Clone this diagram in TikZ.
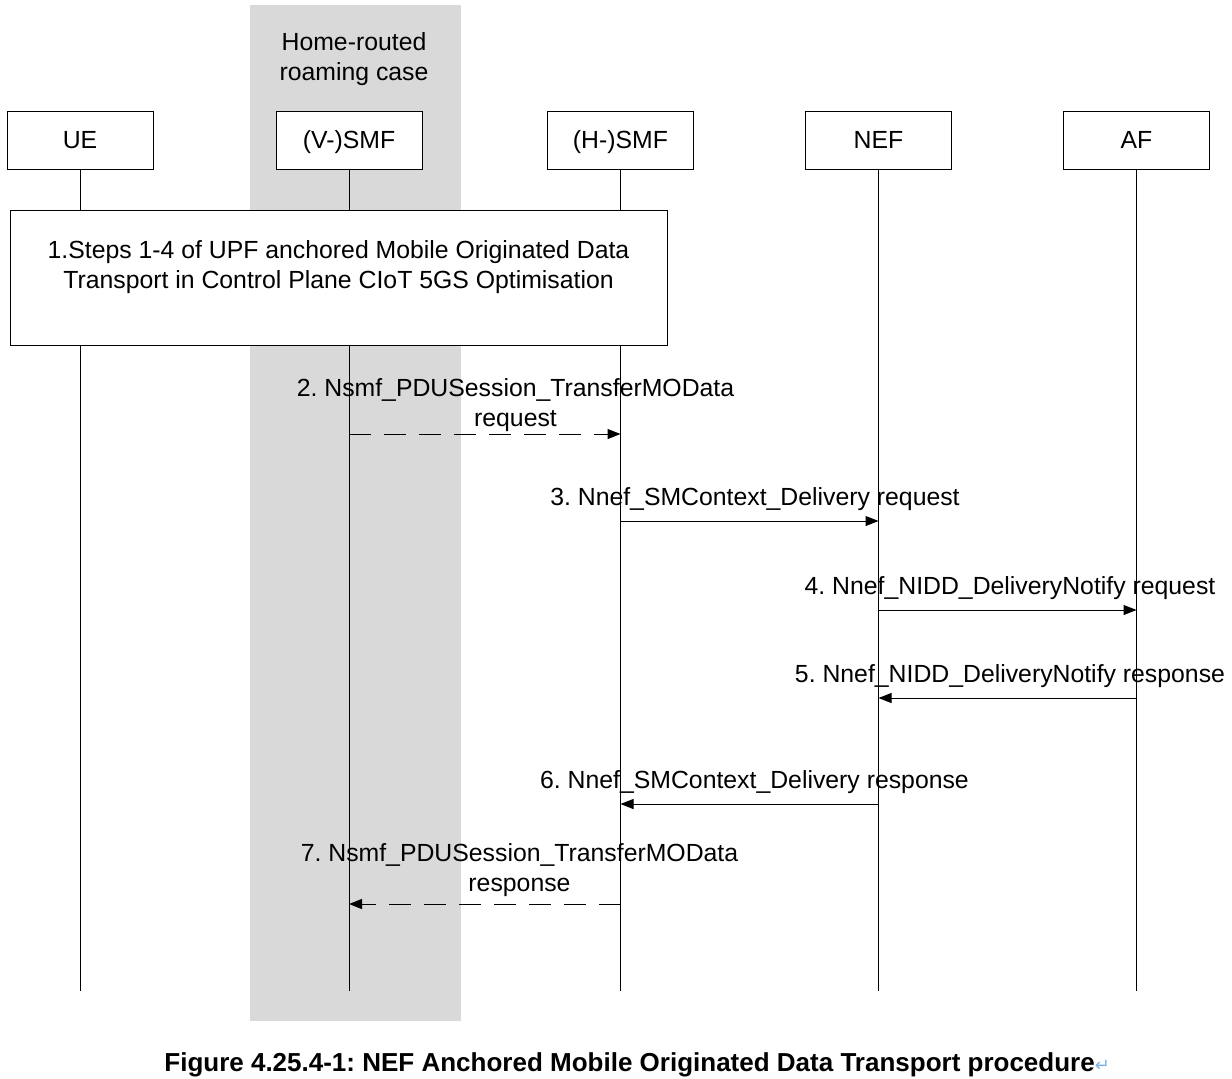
\documentclass[tikz,border=0pt]{standalone}
\usepackage{fontspec}
\setmainfont{Liberation Sans}
\newfontfamily\symfont{DejaVu Sans}
\usetikzlibrary{arrows.meta,positioning}
\definecolor{bandgray}{HTML}{D9D9D9}
\definecolor{markblue}{HTML}{7FB2E5}
\frenchspacing

\begin{document}
\begin{tikzpicture}[
  x=0.5pt, y=-0.5pt,
  every node/.style={font=\fontsize{12.4}{15}\selectfont},
  entity/.style={draw, fill=white, line width=0.5pt, minimum width=73pt,
    minimum height=29pt, inner sep=0pt, text height=10pt, text depth=1.5pt},
  stepbox/.style={draw, fill=white, line width=0.5pt,
    minimum width=328.5pt, minimum height=67.5pt, inner sep=0pt},
  life/.style={line width=0.5pt},
  msg/.style={-{Triangle[length=6.5pt,width=5pt]}, line width=0.5pt},
  dmsg/.style={msg, dash pattern=on 11pt off 6.5pt},
  lbl/.style={align=center, inner sep=0pt}
]
  \useasboundingbox (0,0) rectangle (1232,1078);
  \fill[bandgray] (250,5) rectangle (461,1021);
  \node[lbl] (hr) at (354,59) {Home-routed\\roaming case};

  \node[entity] (ue) at (80,140) {UE};
  \node[entity] (vsmf) at (349,140) {(V-)SMF};
  \node[entity] (hsmf) at (620.5,140) {(H-)SMF};
  \node[entity] (nef) at (878.5,140) {NEF};
  \node[entity] (af) at (1136.5,140) {AF};
  \coordinate (bottom) at (0,991);
  \draw[life] (ue.south) -- (ue |- bottom);
  \draw[life] (vsmf.south) -- (vsmf |- bottom);
  \draw[life] (hsmf.south) -- (hsmf |- bottom);
  \draw[life] (nef.south) -- (nef |- bottom);
  \draw[life] (af.south) -- (af |- bottom);

  \node[stepbox] (step1) at (338.5,277.5) {};
  \node[lbl] (step1txt) at (338.5,267) {1.Steps 1-4 of UPF anchored Mobile Originated Data\\
    Transport in Control Plane CIoT 5GS Optimisation};

  \draw[dmsg] (vsmf |- 0,434) -- (hsmf |- 0,434);
  \node[lbl] (m2) at (515.5,405) {2. Nsmf\_PDUSession\_TransferMOData\\request};
  \draw[msg] (hsmf |- 0,521) -- (nef |- 0,521);
  \node[lbl] (m3) at (755,499) {3. Nnef\_SMContext\_Delivery request};
  \draw[msg] (nef |- 0,610) -- (af |- 0,610);
  \node[lbl] (m4) at (1010,588) {4. Nnef\_NIDD\_DeliveryNotify request};
  \draw[msg] (af |- 0,698) -- (nef |- 0,698);
  \node[lbl] (m5) at (1010,676) {5. Nnef\_NIDD\_DeliveryNotify response};
  \draw[msg] (nef |- 0,804) -- (hsmf |- 0,804);
  \node[lbl] (m6) at (754.5,782) {6. Nnef\_SMContext\_Delivery response};
  \draw[dmsg] (hsmf |- 0,904) -- (vsmf |- 0,904);
  \node[lbl] (m7) at (519.5,870) {7. Nsmf\_PDUSession\_TransferMOData\\response};

  \node[anchor=west, inner sep=0pt, font=\fontsize{13}{16}\selectfont\bfseries]
    (caption) at (164,1065) {Figure 4.25.4-1: NEF Anchored Mobile Originated Data Transport procedure{\color{markblue}\symfont\mdseries\fontsize{9}{10}\selectfont ↵}};
\end{tikzpicture}
\end{document}
